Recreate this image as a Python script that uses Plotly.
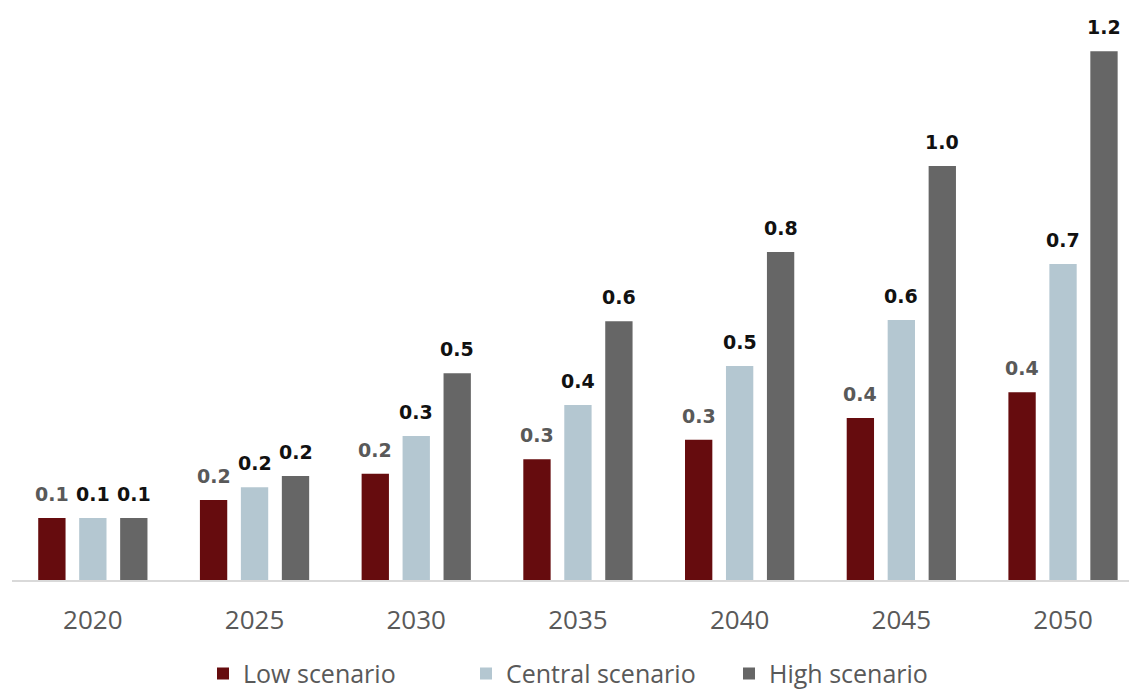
import plotly.graph_objects as go

years = ["2020", "2025", "2030", "2035", "2040", "2045", "2050"]
low = [0.144, 0.186, 0.247, 0.281, 0.326, 0.377, 0.437]
central = [0.144, 0.216, 0.335, 0.407, 0.498, 0.605, 0.735]
high = [0.144, 0.242, 0.481, 0.602, 0.763, 0.963, 1.23]

series = [
    ("Low scenario", low, "#660c0e", "#595959"),
    ("Central scenario", central, "#b4c7d1", "#111111"),
    ("High scenario", high, "#666666", "#111111"),
]

fig = go.Figure()
offsets = [-41, 0, 41]
annotations = []
for (name, vals, color, lblcolor), off in zip(series, offsets):
    fig.add_trace(go.Bar(
        x=years, y=vals, name=name, marker_color=color,
        marker_line_width=0,
    ))
    for i, v in enumerate(vals):
        annotations.append(dict(
            x=i, y=v, xref="x", yref="y", text=f"{v:.1f}", showarrow=False,
            xshift=off, yshift=11, yanchor="bottom",
            font=dict(family="DejaVu Sans", size=19, color=lblcolor, weight="bold"),
        ))

fig.update_layout(
    width=1129, height=693,
    margin=dict(l=12, r=0, t=10, b=113, autoexpand=False),
    paper_bgcolor="white", plot_bgcolor="white",
    barmode="group", bargap=0.24, bargroupgap=0.333,
    annotations=annotations,
    showlegend=True,
    legend=dict(orientation="h", x=0.171, xanchor="left", y=-0.124, yanchor="top",
                font=dict(family="Open Sans", size=25, color="#595959"),
                entrywidth=218, entrywidthmode="pixels",
                itemwidth=30, traceorder="normal"),
    xaxis=dict(type="category", range=[-0.5, 6.408], showgrid=False, showline=True,
               linecolor="#d9d9d9", linewidth=1.5,
               ticks="outside", ticklen=16, tickcolor="rgba(0,0,0,0)",
               tickfont=dict(family="Open Sans", size=26, color="#595959")),
    yaxis=dict(range=[0, 1.326], visible=False, showgrid=False, zeroline=False),
)

fig.write_html("out.html")
